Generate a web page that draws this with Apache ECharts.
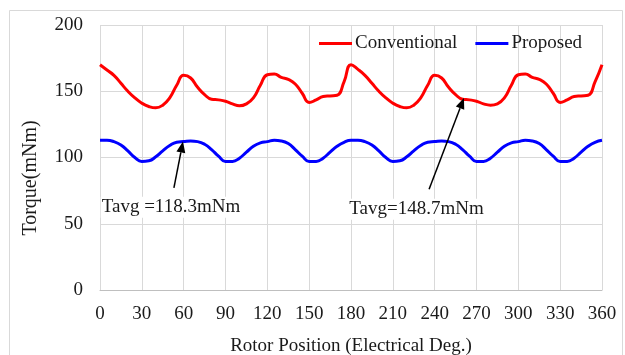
<!DOCTYPE html>
<html>
<head>
<meta charset="utf-8">
<script src="https://cdn.jsdelivr.net/npm/echarts@6/dist/echarts.min.js"></script>
<style>
  html, body { margin: 0; padding: 0; background: #fff; }
  #chart { width: 625px; height: 355px; }
</style>
</head>
<body>
<div id="chart"></div>
<script>
// Rotor position (electrical degrees), sampled every 5 degrees
const angles = [
  0, 5, 10, 15, 20, 25, 30, 35, 40, 45, 50, 55, 60, 65, 70, 75, 80, 85, 90, 95,
  100, 105, 110, 115, 120, 125, 130, 135, 140, 145, 150, 155, 160, 165, 170, 175,
  180, 185, 190, 195, 200, 205, 210, 215, 220, 225, 230, 235, 240, 245, 250, 255,
  260, 265, 270, 275, 280, 285, 290, 295, 300, 305, 310, 315, 320, 325, 330, 335,
  340, 345, 350, 355, 360
];

// Torque of the conventional machine (mNm)
const conventional = [
  170, 166, 162, 156, 150, 145, 141, 138.5, 137.5, 139.5, 145, 154.5, 162, 160, 153, 147.5, 144, 143.5, 142.5, 140.5,
  139, 140.5, 145, 154.5, 162.5, 163, 160.5, 159, 155.5, 148.5, 141.5, 143.5, 146, 146.5, 147, 157,
  170, 166.5, 162, 156, 150, 145, 141, 138.5, 137.5, 139.5, 145, 154.5, 162, 160, 153, 147.5,
  144, 143.5, 142.5, 140.5, 139.5, 140.5, 145, 154.5, 162.5, 163, 160.5, 159, 155.5, 148.5, 141.5, 143.5,
  146, 146.5, 147, 157, 170
];

// Torque of the proposed machine (mNm)
const proposed = [
  113, 113, 112, 109.5, 105, 100, 97, 97.5, 100.5, 105, 109, 111.5, 112, 112.5, 112, 110, 106, 101, 97, 97,
  99.5, 104, 108.5, 111, 112, 113, 112.5, 110.5, 106, 101, 97, 97, 99.5, 104, 108.5, 111.5,
  113, 113, 112, 109.5, 105, 100, 97, 97.5, 100.5, 105, 109, 111.5, 112, 112.5, 112, 110,
  106, 101, 97, 97, 99.5, 104, 108.5, 111, 112, 113, 112.5, 110.5, 106, 101, 97, 97,
  99.5, 104, 108.5, 111.5, 113
];

const xTicks = { min: 0, max: 360, step: 30 };
const yTicks = { min: 0, max: 200, step: 50 };

// Average torque callouts: label anchor, arrow tail and arrow head in data units
const callouts = [
  { text: 'Tavg =118.3mNm', label: [0.5, 62.5], tail: [53, 77], head: [59.5, 112] },
  { text: 'Tavg=148.7mNm', label: [178, 61], tail: [236, 76], head: [261, 145] }
];

const FONT = '"Liberation Serif", "Times New Roman", serif';
const INK = '#1a1a1a';

const pair = (xs, ys) => xs.map((x, i) => [x, ys[i]]);

const chart = echarts.init(document.getElementById('chart'), null, { renderer: 'canvas' });

chart.setOption({
  animation: false,
  backgroundColor: '#fff',
  textStyle: { fontFamily: FONT, color: INK },
  grid: {
    left: 100, right: 23, top: 25, bottom: 65,
    containLabel: false,
    outerBoundsMode: 'none'
  },
  legend: {
    left: 314,
    top: 29,
    itemWidth: 33,
    itemHeight: 3,
    itemGap: 18,
    icon: 'rect',
    textStyle: { fontFamily: FONT, fontSize: 19, color: INK, padding: [0, 0, 0, -2] },
    data: ['Conventional', 'Proposed']
  },
  xAxis: {
    type: 'value',
    min: xTicks.min,
    max: xTicks.max,
    interval: xTicks.step,
    name: 'Rotor Position (Electrical Deg.)',
    nameLocation: 'middle',
    nameGap: 47,
    nameTextStyle: { fontFamily: FONT, fontSize: 19, color: INK },
    axisLine: { show: true, lineStyle: { color: '#bfbfbf', width: 1 } },
    axisTick: { show: false },
    axisLabel: { fontFamily: FONT, fontSize: 19, color: INK, margin: 15 },
    splitLine: { show: true, lineStyle: { color: '#d9d9d9', width: 1 } }
  },
  yAxis: {
    type: 'value',
    min: yTicks.min,
    max: yTicks.max,
    interval: yTicks.step,
    axisLine: { show: false },
    axisTick: { show: false },
    axisLabel: { fontFamily: FONT, fontSize: 19, color: INK, margin: 17 },
    splitLine: { show: true, lineStyle: { color: '#d9d9d9', width: 1 } }
  },
  series: [
    {
      name: 'Conventional',
      type: 'line',
      smooth: 0.5,
      showSymbol: false,
      data: pair(angles, conventional),
      itemStyle: { color: '#ff0000' },
      lineStyle: { color: '#ff0000', width: 3 },
      z: 3
    },
    {
      name: 'Proposed',
      type: 'line',
      smooth: 0.5,
      showSymbol: false,
      data: pair(angles, proposed),
      itemStyle: { color: '#0000ff' },
      lineStyle: { color: '#0000ff', width: 3 },
      z: 3
    }
  ]
});

// Callout text and arrows, positioned through the chart's own coordinate system
function arrowShapes(tail, head) {
  const dx = head[0] - tail[0], dy = head[1] - tail[1];
  const len = Math.hypot(dx, dy);
  const ux = dx / len, uy = dy / len;
  const headLen = 11, headHalf = 4.5;
  const bx = head[0] - ux * headLen, by = head[1] - uy * headLen;
  return [
    {
      type: 'line',
      shape: { x1: tail[0], y1: tail[1], x2: bx, y2: by },
      style: { stroke: '#000', lineWidth: 1.5 },
      z: 10
    },
    {
      type: 'polygon',
      shape: {
        points: [
          [head[0], head[1]],
          [bx - uy * headHalf, by + ux * headHalf],
          [bx + uy * headHalf, by - ux * headHalf]
        ]
      },
      style: { fill: '#000' },
      z: 10
    }
  ];
}

const graphics = [
  {
    // outer frame of the figure
    type: 'rect',
    shape: { x: 9.5, y: 10.5, width: 613, height: 400 },
    style: { fill: 'none', stroke: '#d9d9d9', lineWidth: 1 },
    silent: true,
    z: 0
  },
  {
    // vertical axis title
    type: 'text',
    x: 31,
    y: 178,
    rotation: Math.PI / 2,
    style: {
      text: 'Torque(mNm)',
      fontFamily: FONT,
      fontSize: 20,
      fill: INK,
      align: 'center',
      verticalAlign: 'middle'
    },
    z: 9
  }
];

callouts.forEach(c => {
  const lp = chart.convertToPixel({ gridIndex: 0 }, c.label);
  const tp = chart.convertToPixel({ gridIndex: 0 }, c.tail);
  const hp = chart.convertToPixel({ gridIndex: 0 }, c.head);
  graphics.push({
    type: 'text',
    x: lp[0],
    y: lp[1],
    style: {
      text: c.text,
      fontFamily: FONT,
      fontSize: 19,
      fill: INK,
      backgroundColor: '#fff',
      padding: [1, 2, 1, 1],
      verticalAlign: 'middle',
      align: 'left'
    },
    z: 9
  });
  graphics.push(...arrowShapes(tp, hp));
});

chart.setOption({ graphic: graphics });
</script>
</body>
</html>
